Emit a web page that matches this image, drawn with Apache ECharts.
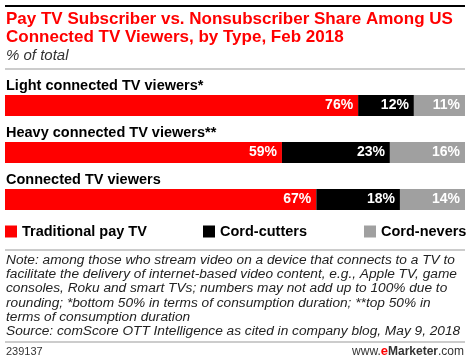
<!DOCTYPE html>
<html><head><meta charset="utf-8">
<script src="https://cdn.jsdelivr.net/npm/echarts@6/dist/echarts.min.js"></script>
<style>html,body{margin:0;padding:0;background:#fff}#c{width:470px;height:362px}</style>
</head><body><div id="c"></div>
<script>
const categories = ['Light connected TV viewers*', 'Heavy connected TV viewers**', 'Connected TV viewers'];
const seriesNames = ['Traditional pay TV', 'Cord-cutters', 'Cord-nevers'];
const payTV = [76, 59, 67];
const cordCutters = [12, 23, 18];
const cordNevers = [11, 16, 14];
const colors = ['#ff0000', '#000000', '#a0a0a0'];

const raw = [payTV, cordCutters, cordNevers];
const totals = categories.map((_, i) => raw.reduce((s, a) => s + a[i], 0));
const FONT = '"Liberation Sans", Arial, sans-serif';

const chart = echarts.init(document.getElementById('c'), null, {renderer: 'canvas'});
const series = raw.map((arr, k) => ({
  name: seriesNames[k],
  type: 'bar',
  stack: 'all',
  barWidth: 21,
  itemStyle: {color: colors[k]},
  data: arr.map((v, i) => ({value: v / totals[i] * 100, raw: v})),
  label: {
    show: true, position: 'insideRight', distance: 5,
    color: '#fff', fontFamily: FONT, fontWeight: 'bold', fontSize: 14,
    formatter: p => p.data.raw + '%'
  }
}));

const legends = seriesNames.map((n, k) => ({
  data: [n], left: [5, 203, 364][k], top: 224, padding: 0,
  icon: 'rect', itemWidth: 12, itemHeight: 12, itemGap: 0,
  selectedMode: false,
  textStyle: {fontFamily: FONT, fontWeight: 'bold', fontSize: 14.5, color: '#000', padding: [0, 0, 0, 0]}
}));

chart.setOption({
  animation: false,
  grid: {left: 5, right: 5, top: 82, height: 141, containLabel: false},
  xAxis: {type: 'value', min: 0, max: 100, show: false},
  yAxis: {
    type: 'category', data: categories, inverse: true,
    axisLine: {show: false}, axisTick: {show: false}, splitLine: {show: false},
    axisLabel: {
      inside: true, align: 'left', verticalAlign: 'bottom', margin: 1,
      padding: [0, 0, 12, 0],
      fontFamily: FONT, fontWeight: 'bold', fontSize: 14.5, color: '#000'
    }
  },
  legend: legends,
  series: series,
  graphic: [
    {type: 'rect', shape: {x: 5, y: 5, width: 460, height: 2}, style: {fill: '#000'}},
    {type: 'text', left: 6, top: 11, style: {text: 'Pay TV Subscriber vs. Nonsubscriber Share Among US\nConnected TV Viewers, by Type, Feb 2018', fill: '#ff0000', font: 'bold 17px ' + FONT, lineHeight: 17.5}},
    {type: 'text', left: 6, top: 48, style: {text: '% of total', fill: '#333', font: 'italic 15px ' + FONT}},
    {type: 'rect', shape: {x: 5, y: 68.5, width: 460, height: 1}, style: {fill: '#999'}},
    {type: 'rect', shape: {x: 5, y: 249.5, width: 460, height: 1}, style: {fill: '#999'}},
    {type: 'text', left: 6, top: 253, style: {text: 'Note: among those who stream video on a device that connects to a TV to\nfacilitate the delivery of internet-based video content, e.g., Apple TV, game\nconsoles, Roku and smart TVs; numbers may not add up to 100% due to\nrounding; *bottom 50% in terms of consumption duration; **top 50% in\nterms of consumption duration\nSource: comScore OTT Intelligence as cited in company blog, May 9, 2018', fill: '#222', font: 'italic 13.7px ' + FONT, lineHeight: 14.2}},
    {type: 'rect', shape: {x: 5, y: 341.5, width: 460, height: 1}, style: {fill: '#999'}},
    {type: 'text', left: 6, top: 346, style: {text: '239137', fill: '#333', font: '11px ' + FONT}},
    {type: 'text', right: 6, top: 345, style: {
      text: '{a|www.}{e|e}{m|Marketer}{a|.com}',
      rich: {
        a: {fontFamily: FONT, fontSize: 12, fill: '#333'},
        e: {fontFamily: FONT, fontSize: 13, fontWeight: 'bold', fill: '#ff0000'},
        m: {fontFamily: FONT, fontSize: 12, fontWeight: 'bold', fill: '#333'}
      }
    }}
  ]
});
</script></body></html>
